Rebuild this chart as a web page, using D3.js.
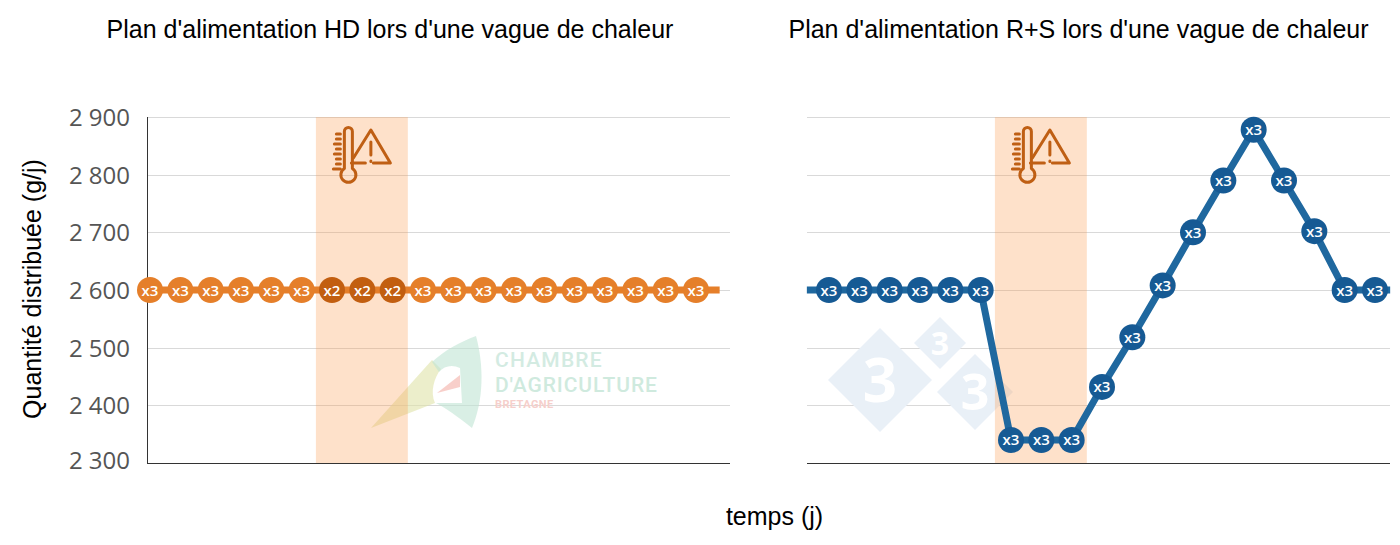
<!DOCTYPE html>
<html><head><meta charset="utf-8">
<script src="https://cdn.jsdelivr.net/npm/d3@7"></script>
<style>html,body{margin:0;padding:0;background:#fff}svg{display:block}</style></head>
<body><svg id="c" width="1400" height="545"></svg>
<script>
const titles = ["Plan d'alimentation HD lors d'une vague de chaleur","Plan d'alimentation R+S lors d'une vague de chaleur"];
const yTicks = [2300,2400,2500,2600,2700,2800,2900];
const days = d3.range(0,19);
const hdValues = [2600,2600,2600,2600,2600,2600,2600,2600,2600,2600,2600,2600,2600,2600,2600,2600,2600,2600,2600];
const rsValues = [2600,2600,2600,2600,2600,2600,2340,2340,2340,2432,2518,2608,2700,2790,2878,2790,2702,2600,2600];
const hdLabels = ["x3","x3","x3","x3","x3","x3","x2","x2","x2","x3","x3","x3","x3","x3","x3","x3","x3","x3","x3"];
const rsLabels = days.map(()=> "x3");
const heatwave = [5.47,8.5];
const hdTail = [[18.78,2600]];
const rsLead = [[-0.73,2600]];
const rsTail = [[18.5,2600]];

const svg = d3.select("#c");
const y = d3.scaleLinear().domain([2300,2900]).range([463,117]);
const sans = "'Liberation Sans',Arial,sans-serif";
const open = "'Open Sans',sans-serif";

function panel(o){
  const x = d3.scaleLinear().domain([0,18]).range(o.xr);
  const g = svg.append("g");
  g.append("g").selectAll("line").data(yTicks.filter(d=>d>2300)).join("line")
    .attr("x1",o.l).attr("x2",o.r).attr("y1",d=>Math.round(y(d))+.5).attr("y2",d=>Math.round(y(d))+.5)
    .attr("stroke","#d9d9d9").attr("stroke-width",1);
  o.wm(g);
  g.append("rect").attr("x",x(heatwave[0])).attr("width",x(heatwave[1])-x(heatwave[0]))
    .attr("y",y(2900)).attr("height",y(2300)-y(2900)).attr("fill","#fb9a50").attr("fill-opacity",.3);
  icon(g,(x(heatwave[0])+x(heatwave[1]))/2-1.5,150);
  g.append("line").attr("x1",o.l).attr("x2",o.r).attr("y1",463.5).attr("y2",463.5).attr("stroke","#333");
  if(o.left) g.append("line").attr("x1",o.l+.5).attr("x2",o.l+.5).attr("y1",117).attr("y2",464).attr("stroke","#333");
  const pts = [...o.lead, ...days.map((d,i)=>[d,o.vals[i]]), ...o.tail];
  g.append("path").attr("d",d3.line().x(d=>x(d[0])).y(d=>y(d[1]))(pts))
    .attr("fill","none").attr("stroke",o.lc).attr("stroke-width",7).attr("stroke-linejoin","round");
  const pt = g.append("g").selectAll("g").data(days).join("g")
    .attr("transform",(d,i)=>`translate(${x(d)},${y(o.vals[i])})`);
  pt.append("circle").attr("r",o.pr).attr("fill",(d,i)=>o.fc(o.labs[i]));
  pt.append("text").text((d,i)=>o.labs[i]).attr("text-anchor","middle").attr("y",5.5)
    .attr("fill","#fff").attr("font-family",open).attr("font-weight",600).attr("font-size",15);
}
function icon(g,cx,cy){
  const i = g.append("g").attr("transform",`translate(${cx},${cy})`)
    .attr("fill","none").attr("stroke","#bf5f14").attr("stroke-width",3).attr("stroke-linecap","round").attr("stroke-linejoin","round");
  i.append("path").attr("d","M-16,-18.5 a4,4 0 0 1 8,0 V18.5 a7.5,7.5 0 1 1 -8,0 Z");
  i.append("path").attr("d","M-7,8 L10.5,-20 L30,13 H13 M5,13 H-9");
  i.append("path").attr("d","M10.5,-8 V5 M10.5,11 V11.5");
  i.append("path").attr("d","M-24,-16 H-20 M-24,-11 H-20 M-26,-6 H-20 M-24,-1 H-20 M-26,4 H-20 M-24,9 H-20 M-24,14 H-20 M-27,19 H-20");
}
function wmHD(g){
  const w = g.append("g");
  w.append("path").attr("d","M371,428 L432,360 L441,369 C434,378 430,392 435,403 Z").attr("fill","#dfe3a8").attr("opacity",.6);
  w.append("path").attr("d","M476,336 C484,365 484,400 472,428 C462,420 452,412 436,403 L462,403 L460,368 C452,364 444,366 439,372 L432,362 C445,350 460,342 476,336 Z").attr("fill","#bfe5d4").attr("opacity",.6);
  w.append("path").attr("d","M437,393 L460,375 L460,387 Z").attr("fill","#f6c3bd").attr("opacity",.8);
  const t = (s,yy,fs,fc,ls,fw)=>w.append("text").text(s).attr("x",495).attr("y",yy).attr("font-size",fs).attr("fill",fc)
    .attr("font-family","'Roboto',sans-serif").attr("font-weight",fw).attr("letter-spacing",ls);
  t("CHAMBRE",367,21,"#d3ebe2",1.2,500);
  t("D'AGRICULTURE",392,21,"#cfeade",0.9,500);
  t("BRETAGNE",408,11,"#f6cfcb",0.4,700);
}
function wmRS(g){
  const w = g.append("g");
  const ds = [[880,380,52,60],[940,343,26,32],[975,392,38,50]];
  w.selectAll("path").data(ds).join("path")
    .attr("d",d=>`M${d[0]-d[2]},${d[1]} L${d[0]},${d[1]-d[2]} L${d[0]+d[2]},${d[1]} L${d[0]},${d[1]+d[2]} Z`)
    .attr("fill","#e9f0f7");
  w.selectAll("text").data(ds).join("text").text("3").attr("x",d=>d[0]).attr("y",d=>d[1]+d[3]*.36)
    .attr("text-anchor","middle").attr("font-size",d=>d[3]).attr("font-weight",700).attr("font-family",open).attr("fill","#fff");
}
panel({xr:[150,696],l:147,r:730,left:true,vals:hdValues,labs:hdLabels,lead:[],tail:hdTail,lc:"#e57f2a",pr:13,
  fc:l=>l==="x2"?"#c25e10":"#e57f2a",wm:wmHD});
panel({xr:[829,1375],l:807,r:1390,left:false,vals:rsValues,labs:rsLabels,lead:rsLead,tail:rsTail,lc:"#1f689f",pr:13,
  fc:()=>"#165a94",wm:wmRS});

svg.append("g").selectAll("text").data(yTicks).join("text")
  .text(d=>d3.format(",")(d).replace(","," "))
  .attr("x",130).attr("y",d=>y(d)+(d===2300?6:9)).attr("text-anchor","end")
  .attr("font-family",open).attr("font-size",24).attr("fill","#555");

const T=(s,x,yy)=>svg.append("text").text(s).attr("x",x).attr("y",yy).attr("text-anchor","middle")
  .attr("font-family",sans).attr("font-size",25).attr("fill","#000");
T(titles[0],390,38); T(titles[1],1078.5,38); T("temps (j)",774.5,525);
svg.append("text").text("Quantité distribuée (g/j)").attr("transform","translate(41,289) rotate(-90)")
  .attr("text-anchor","middle").attr("font-family",sans).attr("font-size",25).attr("fill","#000");
</script></body></html>
